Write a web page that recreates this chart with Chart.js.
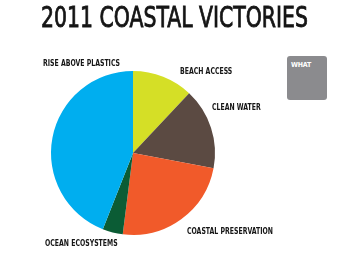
<!DOCTYPE html>
<html>
<head>
<meta charset="utf-8">
<script src="https://cdn.jsdelivr.net/npm/chart.js@4"></script>
<style>
  html, body { margin: 0; padding: 0; background: #fff; }
  #wrap { position: relative; width: 343px; height: 254px; overflow: hidden; }
  #title {
    position: absolute; left: 41px; top: 1px; white-space: nowrap;
    font-family: "DejaVu Sans Condensed", "Liberation Sans Narrow", sans-serif;
    font-weight: normal; font-size: 28px; line-height: 34px; color: #151515;
    -webkit-text-stroke: 0.8px #151515;
    transform-origin: 0 0;
  }
  #what {
    position: absolute; left: 287px; top: 56px; width: 40px; height: 44px;
    background: #8b8b8e; border-radius: 3px;
  }
  #what span {
    position: absolute; left: 4px; top: 5px; color: #fff;
    font-family: "DejaVu Sans Condensed", sans-serif;
    font-weight: bold; font-size: 7px; letter-spacing: -0.2px;
  }
  canvas { position: absolute; left: 0; top: 0; }
</style>
</head>
<body>
<div id="wrap">
  <canvas id="c" width="343" height="254"></canvas>
  <div id="title">2011 COASTAL VICTORIES</div>
  <div id="what"><span>WHAT</span></div>
</div>
<script>
// slices, clockwise from the top
const categories = ['BEACH ACCESS', 'CLEAN WATER', 'COASTAL PRESERVATION', 'OCEAN ECOSYSTEMS', 'RISE ABOVE PLASTICS'];
const values = [12, 16, 24, 4, 44];
const colors = ['#d5df26', '#5b4a42', '#f15a2a', '#0b5c35', '#00aeef'];

// where each label sits on the page
const labelPos = {
    'BEACH ACCESS': [180, 72],
    'CLEAN WATER': [212, 108],
    'COASTAL PRESERVATION': [187, 232],
    'OCEAN ECOSYSTEMS': [45, 244],
    'RISE ABOVE PLASTICS': [43, 64],
};

// squeeze the title to the width of the original
const title = document.getElementById('title');
title.style.transform = 'scaleX(' + (267 / title.getBoundingClientRect().width) + ')';

const sliceLabels = {
    id: 'sliceLabels',
    afterDraw(chart) {
        const ctx = chart.ctx;
        const squeeze = 0.86;
        ctx.save();
        ctx.font = 'bold 8px "DejaVu Sans Condensed", sans-serif';
        ctx.fillStyle = '#151515';
        ctx.textAlign = 'left';
        ctx.textBaseline = 'middle';
        chart.data.labels.forEach((l) => {
            const p = labelPos[l];
            ctx.save();
            ctx.translate(p[0], p[1]);
            ctx.scale(squeeze, 1);
            ctx.fillText(l, 0, 0);
            ctx.restore();
        });
        ctx.restore();
    }
};

new Chart(document.getElementById('c'), {
    type: 'pie',
    data: {
        labels: categories,
        datasets: [{
            data: values,
            backgroundColor: colors,
            borderWidth: 0,
        }]
    },
    options: {
        responsive: false,
        animation: false,
        layout: { padding: { left: 51, right: 128, top: 71, bottom: 19 } },
        plugins: {
            legend: { display: false },
            tooltip: { enabled: false },
        }
    },
    plugins: [sliceLabels]
});
</script>
</body>
</html>
